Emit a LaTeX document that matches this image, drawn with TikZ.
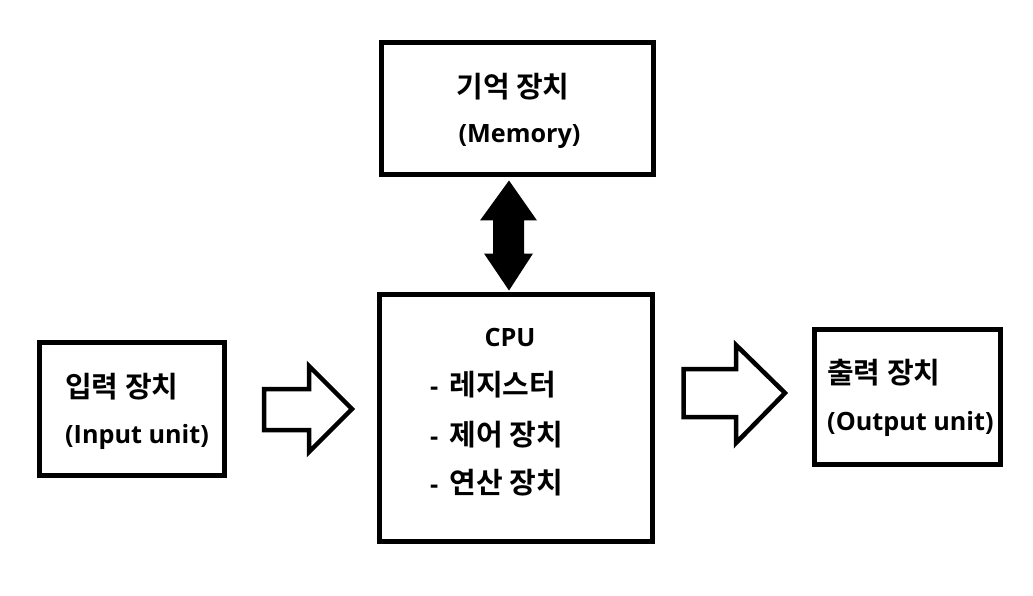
\documentclass[tikz,border=0pt]{standalone}
\usepackage{fontspec}
\setmainfont{Noto Sans CJK KR}[BoldFont={Noto Sans CJK KR Bold}]
\newfontfamily\latinfont{Open Sans}[BoldFont={Open Sans Bold}]
\usetikzlibrary{calc}
\newcommand\cpudash{{\latinfont\bfseries\fontsize{25.5}{29}\selectfont -}\hspace{11pt}}
\begin{document}
\begin{tikzpicture}[x=1pt,y=-1pt,
  box/.style={draw,line width=5pt,minimum width=#1,inner sep=0pt},
  lbl/.style={font=\bfseries\fontsize{29}{32}\selectfont,inner sep=0pt},
  lat/.style={font=\latinfont\bfseries\fontsize{25.2}{29}\selectfont,inner sep=0pt},
  blockarrow/.style={draw,line width=4.5pt,fill=white,line join=miter},
]
\useasboundingbox (0,0) rectangle (1033,596);
\fill[white] (0,0) rectangle (1033,596);
% boxes
\node[box=272pt,minimum height=132.5pt] (mem) at (517.5,108.75) {};
\node[box=273.5pt,minimum height=247pt] (cpu) at (515.75,418) {};
\node[box=185pt,minimum height=133pt] (inp) at (132,409) {};
\node[box=186.5pt,minimum height=135pt] (out) at (907.25,396.5) {};
% texts
\node[lbl] (memk) at (513,87) {기억 장치};
\node[lat] (meme) at (519.5,137) {(Memory)};
\node[lat] (cpuh) at (510,337) {CPU};
\node[lbl,anchor=west] (cpu1) at (430,385) {\cpudash 레지스터};
\node[lbl,anchor=west] (cpu2) at (430,435) {\cpudash 제어 장치};
\node[lbl,anchor=west] (cpu3) at (430,483) {\cpudash 연산 장치};
\node[lbl,anchor=west] (inpk) at (65,387) {입력 장치};
\node[lat,anchor=west] (inpe) at (65,437) {(Input unit)};
\node[lbl,anchor=west] (outk) at (827,373) {출력 장치};
\node[lat,anchor=west] (oute) at (827,424) {(Output unit)};
% double arrow between memory and cpu
\coordinate (dtop) at ($(mem.south)+(-8.5,3)$);
\fill ($(dtop)$) -- ++(28,40) -- ++(-13,0) -- ++(0,33) -- ++(9,0) -- ++(-24,37)
  -- ++(-25,-37) -- ++(9,0) -- ++(0,-33) -- ++(-13,0) -- cycle;
% block arrows
\draw[blockarrow] (264,389) -- (309,389) -- (309,366) -- (352,409) -- (309,452) -- (309,430) -- (264,430) -- cycle;
\draw[blockarrow] (683.5,369) -- (736,369) -- (736,345) -- (785,393) -- (736,443) -- (736,417) -- (683.5,417) -- cycle;
\end{tikzpicture}
\end{document}
